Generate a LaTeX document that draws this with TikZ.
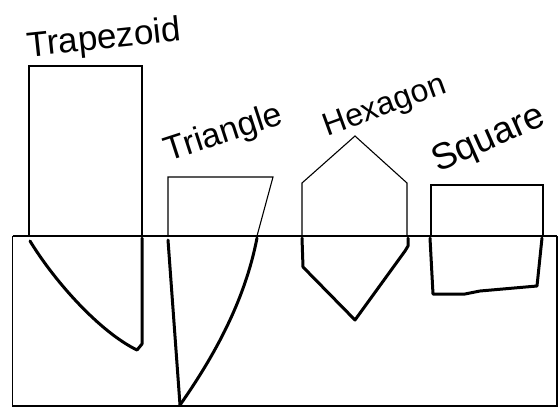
\documentclass[tikz,border=0pt]{standalone}
\usepackage{fontspec}
\setmainfont{Liberation Sans}
\begin{document}
\begin{tikzpicture}[x=1pt,y=-1pt,
  thin line/.style={draw=black,line width=1.1pt},
  mid line/.style={draw=black,line width=1.8pt},
  thick line/.style={draw=black,line width=3pt,line join=round,line cap=round},
  label/.style={inner sep=0pt}]
\useasboundingbox (0,0) rectangle (560,408);
% container
\draw[mid line] (12.5,236) -- (12.5,406) -- (557,406) -- (557,236);
\draw[mid line] (12.5,236) -- (557,236);
% trapezoid
\draw[thin line] (29,236) -- (29,66) -- (142,66) -- (142,236);
\draw[thick line] (30,241) .. controls (55,282) and (100,332) .. (137,350) -- (142,344) -- (142,238);
% triangle
\draw[thin line] (168,236) -- (168,177) -- (273,177) -- (257,236);
\draw[thick line] (168,240) -- (180,405);
\draw[thick line] (257,238) .. controls (245,300) and (215,355) .. (180,405);
% hexagon
\draw[thin line] (302,236) -- (302,183) -- (355,136) -- (407,183) -- (407,236);
\draw[thick line] (302,238) -- (303,267) -- (355,320) -- (405,251) -- (408,246) -- (408,238);
% square
\draw[thin line] (431,236) -- (431,185) -- (543,185) -- (543,236);
\draw[thick line] (430,238) -- (433,294) -- (465,294) -- (480,291) -- (537,286) -- (542,238);
% labels
\node[label,rotate=6,font=\fontsize{35}{35}\selectfont] (ltrap) at (104,40) {Trapezoid};
\node[label,rotate=18,font=\fontsize{34}{34}\selectfont] (ltri) at (224,134) {Triangle};
\node[label,rotate=20,font=\fontsize{32}{32}\selectfont] (lhex) at (385,107) {Hexagon};
\node[label,rotate=24,font=\fontsize{37}{37}\selectfont] (lsq) at (489,140) {Square};
\end{tikzpicture}
\end{document}
